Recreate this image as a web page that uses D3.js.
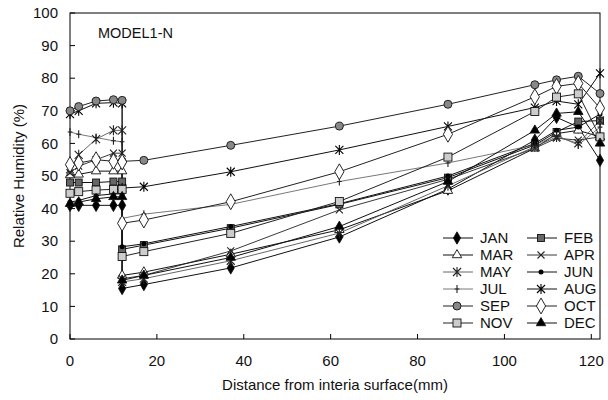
<!DOCTYPE html>
<html><head><meta charset="utf-8">
<script src="https://cdn.jsdelivr.net/npm/d3@7/dist/d3.min.js"></script>
<style>body{margin:0;background:#fff}svg{display:block}text{font-family:"Liberation Sans",Arial,sans-serif}</style>
</head><body><svg id="c" width="608" height="400"></svg>
<script>
const distances = [0, 2, 6, 10, 12, 12, 17, 37, 62, 87, 107, 112, 117, 122];
const months = ["JAN","FEB","MAR","APR","MAY","JUN","JUL","AUG","SEP","OCT","NOV","DEC"];
const JAN = [41, 41, 41, 41, 41, 15.5, 16.7, 21.8, 31.3, 46, 61, 68, 65, 54.8];
const FEB = [48, 48, 48, 48.3, 48.3, 27.5, 28.8, 34, 41.3, 49.5, 59.5, 63.5, 66.7, 67];
const MAR = [50.3, 50.5, 51.5, 51.5, 51.5, 19.5, 20.5, 26, 33.5, 45.5, 58.5, 63, 64, 62];
const APR = [51, 53, 55, 57, 57, 18.5, 19.5, 27, 39.6, 49, 58.5, 61.6, 61, 62];
const MAY = [52, 56.5, 61.3, 64, 64, 17.5, 18.5, 24, 32.5, 47, 59, 62, 60, 67];
const JUN = [42, 42.5, 44, 44.5, 44.5, 28.3, 29.2, 34.5, 41.5, 50, 60, 64, 65, 69];
const JUL = [63.5, 62.8, 61.8, 60.8, 60.5, 37, 38.3, 41.3, 48.3, 54, 59.5, 62.5, 59.5, 65];
const AUG = [69, 70, 72.3, 72.5, 72.3, 46.3, 46.7, 51.3, 58, 65.2, 71, 73, 72, 81.5];
const SEP = [70, 71.3, 73, 73.4, 73.2, 54.5, 54.8, 59.4, 65.3, 72, 78, 79.5, 80.6, 75.3];
const OCT = [53.5, 54, 55, 54.5, 54.3, 35.5, 36.5, 42.1, 51.3, 62.8, 74.3, 77.5, 78.4, 70.8];
const NOV = [44.7, 45.2, 45.7, 45.9, 45.9, 25.3, 26.8, 32.4, 42.2, 55.8, 69.8, 74.2, 75.2, 62];
const DEC = [41.5, 42, 43, 43.6, 43.6, 18, 19.5, 25, 34.5, 48.3, 64, 69.2, 69.7, 60];
const seriesValues = [JAN, FEB, MAR, APR, MAY, JUN, JUL, AUG, SEP, OCT, NOV, DEC];
const yTicks = [0,10,20,30,40,50,60,70,80,90,100];
const xTicks = [0,20,40,60,80,100,120];

// marker styles per month
const styles = {
  JAN:{m:"diamond", fill:"#000", size:7, line:"#111", lw:1},
  FEB:{m:"square", fill:"#666", size:7, line:"#111", lw:1},
  MAR:{m:"triangle", fill:"#fff", size:8, line:"#111", lw:1},
  APR:{m:"x", fill:"none", size:7, line:"#222", lw:0.9},
  MAY:{m:"star", fill:"none", size:8, line:"#555", lw:0.9},
  JUN:{m:"dot", fill:"#000", size:5, line:"#111", lw:1},
  JUL:{m:"plus", fill:"none", size:8, line:"#555", lw:0.8},
  AUG:{m:"star", fill:"none", size:8, line:"#111", lw:1},
  SEP:{m:"circle", fill:"#888", size:8, line:"#222", lw:1},
  OCT:{m:"diamond", fill:"#fff", size:9, line:"#222", lw:1},
  NOV:{m:"square", fill:"#ccc", size:8, line:"#222", lw:1},
  DEC:{m:"triangle", fill:"#000", size:8, line:"#111", lw:1}
};

const svg = d3.select("#c");
const L=70, R=600, T=13, B=339;
const x = d3.scaleLinear().domain([0,122]).range([L,R]);
const y = d3.scaleLinear().domain([0,100]).range([B,T]);

function marker(g, st, cx, cy){
  const s = st.size;
  if (st.m==="diamond"){
    g.append("path").attr("d", d3.symbol(d3.symbolDiamond, s*s*0.9)()).attr("transform",`translate(${cx},${cy})`)
     .attr("fill",st.fill).attr("stroke","#111").attr("stroke-width",0.9);
  } else if (st.m==="square"){
    g.append("rect").attr("x",cx-s/2).attr("y",cy-s/2).attr("width",s).attr("height",s)
     .attr("fill",st.fill).attr("stroke","#111").attr("stroke-width",0.9);
  } else if (st.m==="triangle"){
    g.append("path").attr("d", d3.symbol(d3.symbolTriangle, s*s*0.6)()).attr("transform",`translate(${cx},${cy})`)
     .attr("fill",st.fill).attr("stroke","#111").attr("stroke-width",0.9);
  } else if (st.m==="circle"){
    g.append("circle").attr("cx",cx).attr("cy",cy).attr("r",s/2)
     .attr("fill",st.fill).attr("stroke","#222").attr("stroke-width",1);
  } else if (st.m==="dot"){
    g.append("circle").attr("cx",cx).attr("cy",cy).attr("r",s/2).attr("fill","#000");
  } else {
    const h = s/2; let d = "";
    if (st.m==="x") d = `M${-h},${-h}L${h},${h}M${-h},${h}L${h},${-h}`;
    if (st.m==="plus") d = `M0,${-h}L0,${h}M${-h*0.6},0L${h*0.6},0`;
    if (st.m==="star") d = `M${-h},${-h}L${h},${h}M${-h},${h}L${h},${-h}M0,${-h-1}L0,${h+1}`;
    g.append("path").attr("d",d).attr("transform",`translate(${cx},${cy})`)
     .attr("fill","none").attr("stroke",st.m==="star" && st.line==="#111" ? "#000" : "#222").attr("stroke-width",1.1);
  }
}

// frame
svg.append("rect").attr("x",L).attr("y",T).attr("width",R-L).attr("height",B-T)
  .attr("fill","none").attr("stroke","#000").attr("stroke-width",1);

// ticks (inward)
const gy = svg.append("g");
yTicks.forEach(t=>{
  gy.append("line").attr("x1",L).attr("x2",L+5).attr("y1",y(t)).attr("y2",y(t)).attr("stroke","#000");
  gy.append("text").attr("x",L-12).attr("y",y(t)).attr("dy","0.35em").attr("text-anchor","end")
    .attr("font-size",15).attr("fill","#111").text(t);
});
const gx = svg.append("g");
xTicks.forEach(t=>{
  gx.append("line").attr("x1",x(t)).attr("x2",x(t)).attr("y1",B).attr("y2",B-5).attr("stroke","#000");
  gx.append("text").attr("x",x(t)).attr("y",B+27).attr("text-anchor","middle")
    .attr("font-size",15).attr("fill","#111").text(t);
});

svg.append("text").attr("transform",`translate(24,${(T+B)/2}) rotate(-90)`).attr("text-anchor","middle")
  .attr("font-size",15).attr("fill","#111").text("Relative Humidity (%)");
svg.append("text").attr("x",335).attr("y",390).attr("text-anchor","middle")
  .attr("font-size",15).attr("fill","#111").text("Distance from interia surface(mm)");
svg.append("text").attr("x",98).attr("y",38).attr("font-size",14.5).attr("fill","#111").text("MODEL1-N");

// lines
const line = d3.line().x((d,i)=>x(distances[i])).y(d=>y(d));
const gl = svg.append("g");
months.forEach((m,k)=>{
  const st = styles[m];
  gl.append("path").attr("d", line(seriesValues[k])).attr("fill","none")
    .attr("stroke",st.line).attr("stroke-width",st.lw);
});
const gm = svg.append("g");
months.forEach((m,k)=>{
  const st = styles[m];
  seriesValues[k].forEach((v,i)=> marker(gm, st, x(distances[i]), y(v)));
});

// legend
const lg = svg.append("g");
months.forEach((m,k)=>{
  const col = k%2, row = Math.floor(k/2);
  const x0 = col===0 ? 443 : 527, yy = 238 + row*17;
  const st = styles[m];
  lg.append("line").attr("x1",x0).attr("x2",x0+30).attr("y1",yy).attr("y2",yy)
    .attr("stroke",st.line).attr("stroke-width",st.lw);
  marker(lg, st, x0+14, yy);
  lg.append("text").attr("x",x0+37).attr("y",yy).attr("dy","0.36em").attr("font-size",15).attr("fill","#111").text(m);
});
</script></body></html>
